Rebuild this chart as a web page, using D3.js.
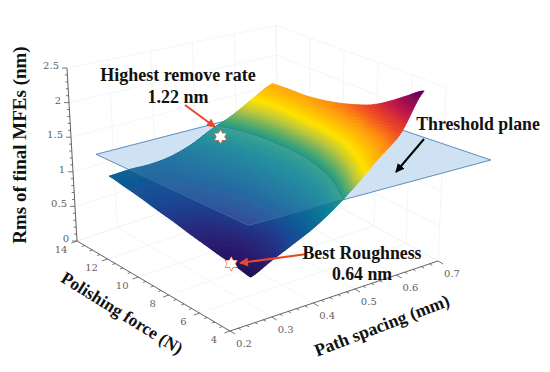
<!DOCTYPE html>
<html><head><meta charset="utf-8">
<script src="https://cdn.jsdelivr.net/npm/d3@7"></script>
<style>html,body{margin:0;padding:0;background:#fff}svg{display:block}
.b{font-family:"Liberation Serif",serif;font-weight:700;fill:#111}
.t{font-family:"DejaVu Serif",serif;font-size:10px;fill:#5f5f5f}</style></head><body>
<script>
// data
const spacingValues=[0.25,0.30,0.35,0.40,0.45,0.50,0.55,0.60,0.65];
const forceValues=[13,12,11,10,9,8,7,6,5,4];
const rmsF13=[0.97,0.98,0.97,1.00,1.09,1.24,1.37,1.55,1.72];
const rmsF12=[0.93,0.93,0.95,1.00,1.08,1.19,1.33,1.51,1.74];
const rmsF11=[0.89,0.89,0.92,0.98,1.06,1.16,1.30,1.49,1.75];
const rmsF10=[0.84,0.85,0.88,0.95,1.04,1.15,1.29,1.50,1.79];
const rmsF9=[0.80,0.81,0.85,0.93,1.03,1.15,1.29,1.51,1.85];
const rmsF8=[0.75,0.77,0.82,0.91,1.03,1.16,1.31,1.55,1.93];
const rmsF7=[0.71,0.74,0.80,0.90,1.04,1.18,1.36,1.62,2.03];
const rmsF6=[0.67,0.72,0.79,0.91,1.06,1.22,1.44,1.74,2.18];
const rmsF5=[0.64,0.72,0.81,0.94,1.11,1.31,1.57,1.86,2.35];
const rmsF4=[0.60,0.73,0.86,1.00,1.19,1.43,1.71,1.99,2.51];
const rmsGrid=[rmsF13,rmsF12,rmsF11,rmsF10,rmsF9,rmsF8,rmsF7,rmsF6,rmsF5,rmsF4];
const thresholdRms=1.28;
const planeCorners=[[0.232,13.3],[0.244,3.93],[0.81,3.89],[0.776,8.85],[0.578,13.18]];
const zTicks=[0,0.5,1,1.5,2,2.5], zLabels=["0","0.5","1","1.5","2","2.5"];
const forceTicks=[14,12,10,8,6,4];
const spacingTicks=[0.2,0.3,0.4,0.5,0.6,0.7];
const spacingLabels=["0.2","0.3","0.4","0.5","0.6","0.7"];
const colorStops=[0.55,0.70,0.85,1.00,1.15,1.30,1.45,1.55,1.80,1.98,2.20,2.51];
const colorValues=["#1a0e40","#2d1b70","#1d4694","#0a6898","#0a8496","#2f9f80","#bfc83c","#ffe300","#ff9210","#ee4a26","#c01a48","#5e0060"];
const stars=[[0.495,12.3,1.22],[0.25,5.23,0.64]];

const W=550,H=372;
const svg=d3.select("body").append("svg").attr("width",W).attr("height",H);
const uS=d3.scaleLinear().domain([0.2,0.7]).range([0,1]);
const vS=d3.scaleLinear().domain([14,4]).range([0,1]);
const A=[77,241],B=[230,331],C=[438,261],D=[278,173];
const zA=[-4,-69.2],zB=[-1,-79],zC=[3.2,-69.6],zD=[-0.8,-59];
const bil=(u,v,a,b,c,d,i)=>(1-u)*(1-v)*a[i]+(1-u)*v*b[i]+u*v*c[i]+u*(1-v)*d[i];
const projUV=(u,v,z)=>[bil(u,v,A,B,C,D,0)+z*bil(u,v,zA,zB,zC,zD,0),bil(u,v,A,B,C,D,1)+z*bil(u,v,zA,zB,zC,zD,1)];
const project=(s,f,z)=>projUV(uS(s),vS(f),z);
const line=d3.line();
const poly=p=>"M"+p.map(q=>q[0].toFixed(2)+","+q[1].toFixed(2)).join("L")+"Z";
const defs=svg.append("defs");
defs.append("filter").attr("id","soft").attr("x","-5%").attr("y","-5%").attr("width","110%").attr("height","110%").append("feGaussianBlur").attr("stdDeviation",0.5);

// grid
const gridG=svg.append("g").attr("fill","none").attr("stroke","#f2f2f2").attr("stroke-width",0.8);
spacingTicks.forEach(s=>gridG.append("path").attr("d",line([project(s,14,0),project(s,4,0)])));
forceTicks.forEach(f=>gridG.append("path").attr("d",line([project(0.2,f,0),project(0.7,f,0)])));
spacingTicks.forEach(s=>gridG.append("path").attr("d",line([project(s,14,0),project(s,14,2.5)])));
forceTicks.forEach(f=>gridG.append("path").attr("d",line([project(0.7,f,0),project(0.7,f,2.5)])));
zTicks.forEach(z=>gridG.append("path").attr("d",line([project(0.2,14,z),project(0.7,14,z),project(0.7,4,z)])));

// axes
const ax=svg.append("g").attr("stroke","#555").attr("fill","none");
const zS=d3.scaleLinear().domain([0,2.5]).range([0,2.5]);
ax.append("path").attr("d",line([project(0.2,14,0),project(0.2,14,2.5)])).attr("stroke-width",0.9);
ax.append("path").attr("d",line([project(0.2,14,0),project(0.2,4,0)])).attr("stroke-width",0.9);
ax.append("path").attr("d",line([project(0.2,4,0),project(0.7,4,0)])).attr("stroke-width",0.9);
const tick=(p,dx,dy,k)=>ax.append("path").attr("stroke-width",0.8).attr("d",line([p,[p[0]+dx*k,p[1]+dy*k]]));
zS.ticks(25).forEach(z=>{const maj=Math.abs(z*2-Math.round(z*2))<1e-6;tick(project(0.2,14,zS(z)),-1,0,maj?5:2.5);});
d3.range(14,3.9,-0.5).forEach(f=>{const maj=Math.abs(f/2-Math.round(f/2))<1e-6;tick(project(0.2,f,0),-0.94,0.34,maj?6:3);});
d3.range(0,26).forEach(i=>{const s=0.2+i*0.02,maj=i%5===0;tick(project(s,4,0),0.86,0.5,maj?6:3);});

// tick labels
const tl=svg.append("g");
zTicks.forEach((z,i)=>{const p=project(0.2,14,z);tl.append("text").attr("class","t").attr("x",p[0]-8).attr("y",p[1]+1).attr("text-anchor","end").text(zLabels[i]);});
forceTicks.forEach(f=>{const p=project(0.2,f,0);tl.append("text").attr("class","t").attr("x",p[0]-16).attr("y",p[1]+12).attr("text-anchor","middle").text(f);});
spacingTicks.forEach((s,i)=>{const p=project(s,4,0);tl.append("text").attr("class","t").attr("x",p[0]+14).attr("y",p[1]+16).attr("text-anchor","middle").text(spacingLabels[i]);});

// plane under surface
const planePts=planeCorners.map(c=>project(c[0],c[1],thresholdRms));
svg.append("path").attr("d",poly(planePts)).attr("fill","#cfe2f4").attr("stroke","#5c8fbd").attr("stroke-width",1);

// surface
const nU=spacingValues.length,nV=forceValues.length,sub=12;
const cr=(a,b,c,d,t)=>0.5*((2*b)+(-a+c)*t+(2*a-5*b+4*c-d)*t*t+(-a+3*b-3*c+d)*t*t*t);
const cl=(x,a)=>Math.max(0,Math.min(a,x));
const g=(i,j)=>rmsGrid[cl(j,nV-1)][cl(i,nU-1)];
function zAt(x,y){
  const i=Math.min(Math.floor(x),nU-2),j=Math.min(Math.floor(y),nV-2),tx=x-i,ty=y-j;
  const col=[-1,0,1,2].map(d=>cr(g(i+d,j-1),g(i+d,j),g(i+d,j+1),g(i+d,j+2),ty));
  return cr(col[0],col[1],col[2],col[3],tx);
}
const sx=d3.scaleLinear().domain([0,nU-1]).range([spacingValues[0],spacingValues[nU-1]]);
const fy=d3.scaleLinear().domain([0,nV-1]).range([forceValues[0],forceValues[nV-1]]);
const P=(x,y)=>project(sx(x),fy(y),zAt(x,y));
const color=d3.scaleLinear().domain(colorStops).range(colorValues).clamp(true);
const surf=svg.append("g").attr("filter","url(#soft)");
const under=surf.append("g"),over=surf.append("g");
const step=1/sub;
for(let j=0;j<(nV-1)*sub;j++)for(let i=0;i<(nU-1)*sub;i++){
  const x=i*step,y=j*step,x1=(i+1)*step,y1=(j+1)*step;
  const c=color(zAt(x+step/2,y+step/2));
  const d=poly([P(x,y),P(x1,y),P(x1,y1),P(x,y1)]);
  under.append("path").attr("d",d).attr("fill",c).attr("stroke",c).attr("stroke-width",0.8);
  over.append("path").attr("d",d).attr("fill",c);
}

// plane over the part of the surface below it
const n=(nU-1)*sub+1,m=(nV-1)*sub+1,vals=new Array(n*m);
for(let j=0;j<m;j++)for(let i=0;i<n;i++)vals[j*n+i]=-zAt(i*step,j*step);
const cont=d3.contours().size([n,m]).thresholds([-thresholdRms])(vals)[0];
const toP=q=>P(cl((q[0]-0.5)*step,nU-1),cl((q[1]-0.5)*step,nV-1));
const contourPath=cont.coordinates.map(pg=>pg.map(r=>poly(r.map(toP))).join("")).join("");
defs.append("clipPath").attr("id","below").append("path").attr("d",contourPath);
defs.append("clipPath").attr("id","pl").append("path").attr("d",poly(planePts));
svg.append("path").attr("d",poly(planePts)).attr("clip-path","url(#below)").attr("fill","#cfe2f4").attr("fill-opacity",0.12).attr("stroke","#2f6f9f").attr("stroke-width",1);
svg.append("g").attr("clip-path","url(#pl)").append("path").attr("d",contourPath).attr("fill","none").attr("stroke","#2f6f9f").attr("stroke-opacity",0.5).attr("stroke-width",1);

// stars
stars.forEach(st=>{const p=project(st[0],st[1],st[2]);
  const tri=d3.symbol(d3.symbolTriangle,55)();
  const sg=svg.append("g").attr("transform",`translate(${p[0]},${p[1]})`);
  [0,180].forEach(r=>sg.append("path").attr("d",tri).attr("transform",`rotate(${r})`).attr("fill","#fff").attr("stroke","#ee5a2c").attr("stroke-width",1.2));
  [0,180].forEach(r=>sg.append("path").attr("d",tri).attr("transform",`rotate(${r})`).attr("fill","#fff"));
});

// arrows
const mk=(id,c)=>defs.append("marker").attr("id",id).attr("viewBox","0 0 10 10").attr("refX",9).attr("refY",5).attr("markerWidth",4.5).attr("markerHeight",4.5).attr("orient","auto").attr("markerUnits","strokeWidth").append("path").attr("d","M0,0L10,5L0,10Z").attr("fill",c);
mk("ar","#e8472a");mk("ak","#000");
const arrow=(a,b,c,id)=>svg.append("path").attr("d",line([a,b])).attr("stroke",c).attr("stroke-width",2).attr("fill","none").attr("marker-end",`url(#${id})`);
arrow([185,105],[215,127],"#e8472a","ar");
arrow([307,254],[240,263],"#e8472a","ar");
arrow([424,139],[396,172],"#000","ak");

// text
const lab=(t,x,y,size,rot)=>svg.append("text").attr("class","b").attr("text-anchor","middle").attr("font-size",size)
 .attr("transform",`translate(${x},${y}) rotate(${rot||0})`).text(t);
lab("Rms of final MFEs (nm)",26,145,19,-90);
lab("Polishing force (N)",119,318,17.5,32);
lab("Path spacing (mm)",384,331,17.8,-21);
lab("Highest remove rate",178,81,18);
lab("1.22 nm",178,103,18);
lab("Threshold plane",478,130,17.8);
lab("Best Roughness",362,259,17.8);
lab("0.64 nm",362,280,17.8);
</script></body></html>
